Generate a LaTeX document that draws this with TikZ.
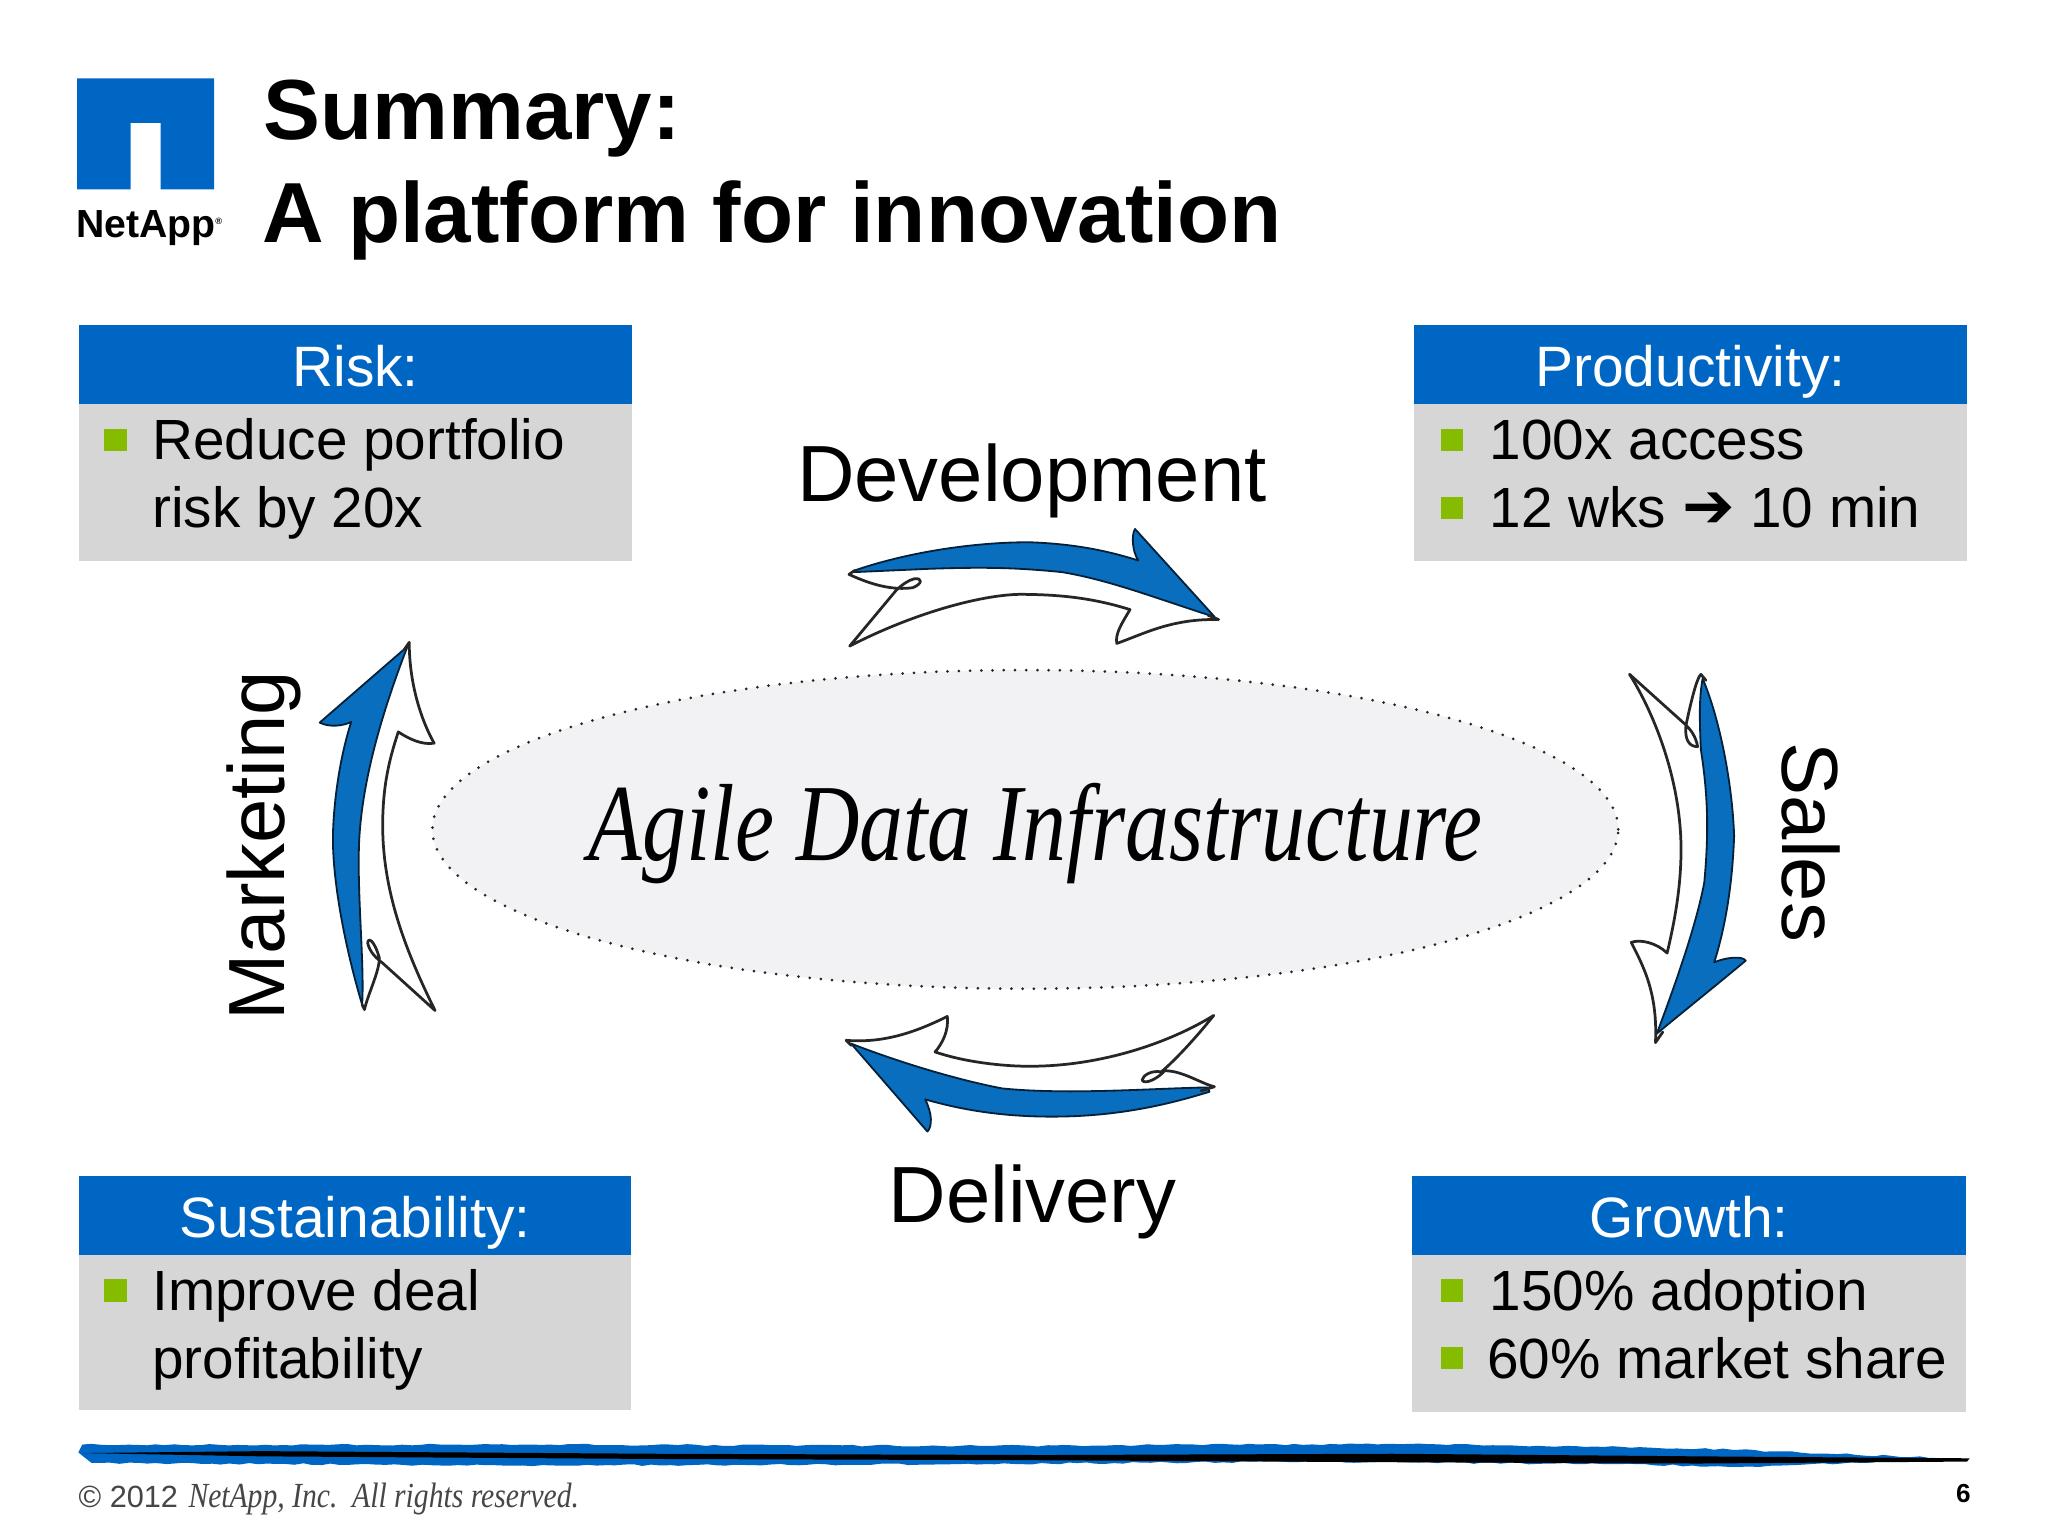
\documentclass[tikz,border=0pt]{standalone}
\usepackage{fontspec}
\usepackage{graphicx}
\setmainfont{Liberation Sans}
\newfontfamily\scriptish{Liberation Serif}
\newfontfamily\symbolish{DejaVu Sans}
\usetikzlibrary{shapes.geometric,decorations.pathmorphing}
\definecolor{naBlue}{RGB}{0,102,196}
\definecolor{naGrey}{RGB}{214,214,214}
\definecolor{naGreen}{RGB}{133,188,0}
\definecolor{arBlue}{RGB}{10,110,190}
\definecolor{elFill}{RGB}{242,241,244}
\definecolor{footGrey}{RGB}{70,70,70}
\newcommand{\fsz}[1]{\fontsize{#1}{#1}\selectfont}
\tikzset{
  headbox/.style={fill=naBlue,text=white,minimum width=424pt,minimum height=60pt,inner sep=0pt,anchor=north west,font=\fsz{43.6},text height=34pt,text depth=0pt,align=center},
  bodybox/.style={fill=naGrey,minimum width=424pt,minimum height=120pt,inner sep=0pt,anchor=north west},
  bulletbox/.style={fill=naGreen,minimum size=17pt,inner sep=0pt},
  rowtext/.style={anchor=base west,font=\fsz{43.4},inner sep=0pt},
  flowlabel/.style={font=\fsz{61},inner sep=0pt},
  arblue/.style={fill=arBlue,draw=black!70!arBlue,line width=1.4pt,line join=round},
  arline/.style={draw=black!85,line width=2.1pt,line cap=round,line join=round},
}
\begin{document}
\begin{tikzpicture}[x=1pt,y=-1pt]
\useasboundingbox (0,0) rectangle (1568,1176);
\fill[white] (0,0) rectangle (1568,1176);

% logo
\fill[naBlue] (59,60) -- (164,60) -- (164,145) -- (123,145) -- (123,94) -- (100,94) -- (100,145) -- (59,145) -- cycle;
\node[anchor=base west,inner sep=0pt,font=\bfseries\fsz{30}] (logotext) at (58,182) {NetApp\raisebox{10pt}{\fsz{7}®}};

% title
\node[anchor=base west,inner sep=0pt,font=\bfseries\fsz{65.3}] (title1) at (201.5,107) {Summary:};
\node[anchor=base west,inner sep=0pt,font=\bfseries\fsz{65.3}] (title2) at (201,186) {A platform for innovation};

% boxes
\node[bodybox] (riskbody) at (60,309) {};
\node[headbox] (riskhead) at (60,249) {Risk:};
\node[bulletbox] (riskb1) at (88.5,337) {};
\node[rowtext] (riskt1) at (116.5,352) {Reduce portfolio};
\node[rowtext] (riskt2) at (116.5,404) {risk by 20x};

\node[bodybox] (prodbody) at (1082,309) {};
\node[headbox] (prodhead) at (1082,249) {Productivity:};
\node[bulletbox] (prodb1) at (1111.5,337) {};
\node[bulletbox] (prodb2) at (1111.5,389) {};
\node[rowtext] (prodt1) at (1140.5,352) {100x access};
\node[rowtext] (prodt2) at (1140.5,404) {12 wks {\symbolish\fsz{48}➔} 10 min};

\node[bodybox,minimum width=423pt,minimum height=119pt] (susbody) at (60,960.5) {};
\node[headbox,minimum width=423pt] (sushead) at (60,900.5) {Sustainability:};
\node[bulletbox] (susb1) at (88.5,988) {};
\node[rowtext] (sust1) at (116.5,1003.5) {Improve deal};
\node[rowtext] (sust2) at (116.5,1055.5) {profitability};

\node[bodybox,minimum height=120pt] (growbody) at (1081,960.5) {};
\node[headbox] (growhead) at (1081,900.5) {Growth:};
\node[bulletbox] (growb1) at (1111.5,988) {};
\node[bulletbox] (growb2) at (1111.5,1040) {};
\node[rowtext] (growt1) at (1140.5,1003.5) {150\% adoption};
\node[rowtext] (growt2) at (1138.5,1055.5) {60\% market share};

% centre
\node[ellipse,fill=elFill,draw=black!85,line width=2.3pt,line cap=round,dash pattern=on 0pt off 8.6pt,minimum width=908pt,minimum height=244pt,inner sep=0pt] (core) at (785,635) {};
\node[anchor=base,inner sep=0pt,font=\scriptish\itshape\fsz{84}] (coretext) at (793,659) {\scalebox{0.8}[1]{Agile Data Infrastructure}};

% labels
\node[flowlabel,anchor=base] (dev) at (790,384) {Development};
\node[flowlabel,anchor=base] (del) at (790.5,936) {Delivery};
\node[flowlabel,anchor=base west,rotate=90] (mkt) at (218,781.5) {Marketing};
\node[flowlabel,anchor=base west,rotate=-90] (sal) at (1365,568.5) {Sales};

% development arrow
\begin{scope}[shift={(597.2,383.4)},x=0.254pt,y=-0.254pt]
\path[arblue] (225,210) .. controls (400,150) and (600,125) .. (750,125) .. controls (900,130) and (1000,155) .. (1080,180)
  .. controls (1060,150) and (1060,100) .. (1070,85) -- (1310,350) .. controls (1150,300) and (1000,240) .. (850,215)
  .. controls (700,200) and (600,200) .. (450,205) -- (225,215) -- cycle;
\draw[arline] (225,210) -- (208,222) .. controls (280,255) and (340,270) .. (400,262) .. controls (430,250) and (430,232) .. (405,235) .. controls (385,240) and (365,255) .. (350,270) -- (210,438)
  .. controls (400,340) and (600,285) .. (720,282) .. controls (850,282) and (950,295) .. (1055,328)
  .. controls (1030,370) and (1010,400) .. (1015,430) .. controls (1100,400) and (1180,355) .. (1322,358) -- (1290,345);
\end{scope}

% sales arrow
\begin{scope}[shift={(1224.8,498)},x=0.254pt,y=-0.254pt]
\path[arblue] (310,85) .. controls (360,200) and (400,400) .. (405,560) .. controls (400,700) and (380,830) .. (345,940)
  .. controls (380,925) and (430,920) .. (440,935) .. controls (350,1010) and (250,1090) .. (172,1155)
  .. controls (230,1000) and (290,830) .. (315,700) .. controls (330,540) and (325,430) .. (305,300) .. controls (300,200) and (300,140) .. (310,85) -- cycle;
\draw[arline] (90,72) -- (260,225) .. controls (255,270) and (270,290) .. (295,290) .. controls (290,260) and (275,240) .. (260,225)
  .. controls (280,130) and (295,80) .. (305,72) -- (320,90);
\draw[arline] (90,72) .. controls (170,200) and (245,400) .. (245,600) .. controls (245,700) and (230,800) .. (203,912)
  .. controls (170,880) and (120,870) .. (95,880) .. controls (130,950) and (175,1030) .. (168,1182) -- (190,1150);
\end{scope}

% marketing arrow
\begin{scope}[shift={(229.5,474.5)},x=0.254pt,y=-0.254pt]
\path[arblue] (325,80) -- (60,310) .. controls (90,325) and (130,320) .. (155,308) .. controls (110,450) and (100,600) .. (100,660)
  .. controls (100,800) and (140,1000) .. (188,1160) .. controls (195,1050) and (175,850) .. (178,700) .. controls (180,550) and (220,350) .. (325,80) -- cycle;
\draw[arline] (188,1160) -- (195,1175) .. controls (205,1130) and (240,1060) .. (240,1020) .. controls (225,965) and (205,955) .. (205,975)
  .. controls (210,1000) and (230,1020) .. (250,1035) -- (408,1178) .. controls (320,1000) and (250,820) .. (250,620)
  .. controls (250,500) and (270,420) .. (297,338) .. controls (330,360) and (370,378) .. (405,372) .. controls (370,310) and (330,200) .. (330,68) -- (315,90);
\end{scope}

% delivery arrow
\begin{scope}[shift={(627.5,766)},x=0.254pt,y=-0.254pt]
\path[arblue] (95,130) .. controls (250,190) and (420,240) .. (550,265) .. controls (750,285) and (1000,265) .. (1170,262) -- (1175,275)
  .. controls (1000,330) and (850,350) .. (700,350) .. controls (550,350) and (430,330) .. (318,298)
  .. controls (340,340) and (340,380) .. (325,395) -- cycle;
\draw[arline] (95,135) -- (80,120) .. controls (200,130) and (300,90) .. (385,48) .. controls (390,90) and (370,130) .. (348,155)
  .. controls (450,190) and (580,200) .. (650,198) .. controls (850,195) and (1050,130) .. (1188,45)
  .. controls (1120,130) and (1060,190) .. (1030,215) .. controls (1000,210) and (975,225) .. (972,240) .. controls (980,255) and (1020,235) .. (1040,212)
  .. controls (1090,210) and (1150,250) .. (1190,260) -- (1150,272);
\end{scope}

% bottom rule
\pgfmathsetseed{4}
\fill[naBlue,decorate,decoration={random steps,segment length=7pt,amplitude=0.7pt}]
  (60,1112) -- (63,1106) -- (400,1106) -- (760,1107) -- (1066,1105.5) -- (1200,1107) -- (1330,1110) -- (1400,1113) -- (1500,1116.5)
  -- (1424,1120) -- (1330,1123) -- (1240,1121) -- (1000,1119) -- (730,1121) -- (400,1122) -- (70,1120) -- cycle;
\fill[black] (64,1112.5) -- (200,1111) -- (500,1113) -- (800,1114) -- (1066,1113) -- (1300,1115) -- (1508,1116.5) -- (1506,1119) -- (1300,1120.5) -- (1066,1119.5) -- (800,1118) -- (500,1117) -- (200,1115) -- cycle;

% footer
\node[anchor=base west,inner sep=0pt,text=footGrey,font=\fsz{23.5}] (foot) at (60,1154) {© 2012\hspace{8pt}\scalebox{0.84}[1]{\scriptish\itshape\fsz{27}NetApp, Inc.\ \ All rights reserved.}};
\node[anchor=base east,inner sep=0pt,font=\bfseries\fsz{20}] (pagenum) at (1509,1150) {6};
\end{tikzpicture}
\end{document}
